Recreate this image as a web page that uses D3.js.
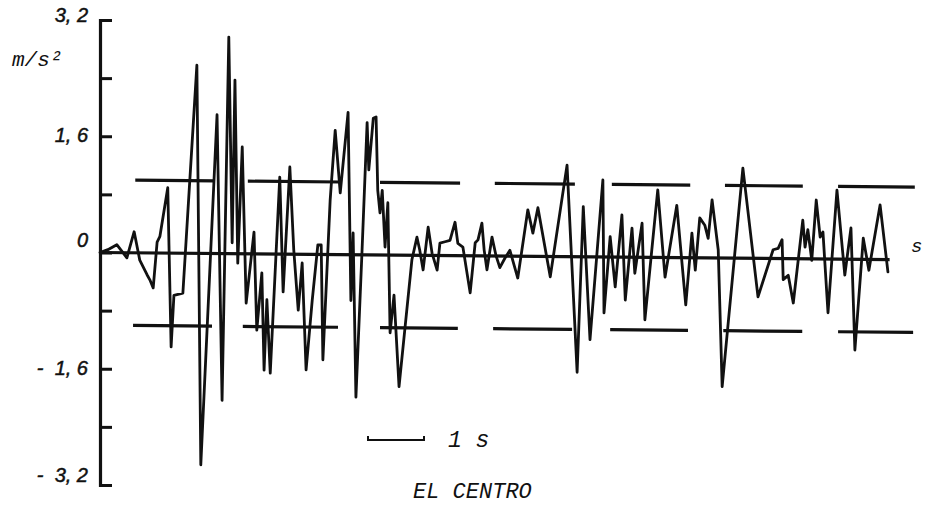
<!DOCTYPE html>
<html><head><meta charset="utf-8">
<script src="https://cdn.jsdelivr.net/npm/d3@7"></script>
<style>body{margin:0;background:#fff}svg{display:block}</style>
</head><body>
<svg id="c" width="931" height="506"></svg>
<script>
// time in seconds, acceleration in m/s^2 (read from the record)
const time = [0,0.14,0.30,0.43,0.48,0.61,0.71,0.84,0.89,0.95,1.02,1.07,1.21,1.27,1.32,1.48,1.73,1.80,2.09,2.18,2.30,2.36,2.41,2.46,2.54,2.61,2.75,2.80,2.89,2.93,2.98,3.04,3.21,3.27,3.39,3.46,3.54,3.61,3.68,3.79,3.89,3.95,3.98,4.11,4.20,4.29,4.43,4.48,4.52,4.57,4.68,4.77,4.80,4.88,4.93,4.96,5.00,5.04,5.09,5.14,5.18,5.25,5.34,5.57,5.66,5.71,5.77,5.86,5.93,6.02,6.07,6.16,6.25,6.34,6.39,6.48,6.61,6.70,6.75,6.82,6.86,6.91,7.00,7.07,7.14,7.23,7.32,7.46,7.64,7.73,7.82,8.04,8.34,8.52,8.63,8.75,8.98,9.00,9.11,9.20,9.32,9.38,9.50,9.55,9.68,9.73,9.96,10.09,10.30,10.46,10.57,10.63,10.71,10.80,10.86,10.93,11.04,11.11,11.48,11.75,12.02,12.11,12.18,12.20,12.29,12.38,12.55,12.59,12.64,12.71,12.79,12.86,12.91,13.00,13.16,13.30,13.41,13.48,13.63,13.73,13.93,14.07];
const accel = [0.00,0.04,0.11,-0.02,-0.07,0.29,-0.10,-0.30,-0.37,-0.48,0.15,0.23,0.90,-1.29,-0.58,-0.55,2.59,-2.91,1.91,-2.02,2.98,0.15,2.39,-0.13,1.47,-0.68,0.30,-1.05,-0.26,-1.60,-0.63,-1.64,1.06,-0.52,1.20,0.06,-0.77,-0.12,-1.59,-0.63,0.13,0.13,-1.45,0.75,1.71,0.85,1.96,-0.63,0.30,-1.96,0.07,1.82,1.17,1.88,1.90,0.89,0.58,0.89,0.11,0.72,-1.07,-0.55,-1.81,-0.06,0.25,0.07,-0.20,0.39,0.03,-0.20,0.17,0.19,0.21,0.46,0.17,0.12,-0.51,0.18,0.22,0.45,0.08,-0.19,0.26,0.01,-0.16,-0.03,0.08,-0.30,0.64,0.32,0.67,-0.28,1.26,-1.59,0.69,-1.14,1.06,-0.77,0.28,-0.41,0.58,-0.59,0.40,-0.22,0.47,-0.86,0.93,-0.27,0.72,-0.65,0.34,-0.17,0.55,0.45,0.27,0.80,0.11,-1.77,1.24,-0.53,0.12,0.14,0.26,-0.29,-0.23,-0.61,0.53,0.16,0.40,-0.02,0.81,0.30,0.37,-0.74,0.95,-0.22,0.43,-1.25,0.29,-0.15,0.75,-0.17];

const yTicks = [-3.2,-2.4,-1.6,-0.8,0,0.8,1.6,2.4,3.2];
const labelValues = [3.2,1.6,0,-1.6,-3.2];
const labelTexts = ["3, 2","1, 6","0","-  1, 6","-  3, 2"];
const threshold = 1.0;
const upperStart = [0.63,2.64,5.00,7.05,9.14,11.16,13.18];
const upperEnd   = [2.05,4.29,6.43,8.48,10.54,12.55,14.55];
const lowerStart = [0.59,2.55,5.00,7.02,9.11,11.13,13.18];
const lowerEnd   = [2.00,4.25,6.39,8.43,10.50,12.54,14.52];
const recordEnd = 14.1;
const unitY = "m/s²", unitX = "s", scaleText = "1 s", title = "EL CENTRO";

const svg = d3.select("#c");
const ink = "#111";
const x = d3.scaleLinear().domain([0,14.5]).range([100,912]);
const y = d3.scaleLinear().domain([-3.2,3.2]).range([485,20]);

// y axis with bracket ends
const ax = svg.append("g").attr("transform","translate(100,0)")
  .call(d3.axisRight(y).tickValues(yTicks).tickSize(12).tickSizeOuter(12).tickFormat(""));
ax.select(".domain").attr("stroke",ink).attr("stroke-width",3.2).attr("fill","none");
ax.selectAll(".tick line").attr("stroke",ink).attr("stroke-width",3);

const labelShift = [2,6,-6,6,-3];
svg.append("g").selectAll("text").data(labelValues).join("text")
  .attr("x",88).attr("y",(d,i)=>y(d)+labelShift[i])
  .attr("text-anchor","end").attr("xml:space","preserve")
  .style("white-space","pre")
  .attr("font-family","Liberation Sans, Arial, sans-serif").attr("font-style","italic")
  .attr("font-size",20).attr("fill",ink).attr("stroke",ink).attr("stroke-width",0.5)
  .text((d,i)=>labelTexts[i]);

svg.append("text").attr("x",12).attr("y",66)
  .attr("font-family","Liberation Mono, Courier New, monospace").attr("font-style","italic")
  .attr("font-size",21).attr("fill",ink).text(unitY);

// plot group, slightly skewed like the scanned record
const tilt = 0.51;
const g = svg.append("g").attr("transform",`translate(100,0) skewY(${tilt}) translate(-100,0)`);

g.append("line").attr("x1",x(0)).attr("x2",x(recordEnd)).attr("y1",y(0)).attr("y2",y(0))
  .attr("stroke",ink).attr("stroke-width",3.2);

const segs = upperStart.map((s,i)=>({a:s,b:upperEnd[i],v:threshold}))
  .concat(lowerStart.map((s,i)=>({a:s,b:lowerEnd[i],v:-threshold})));
g.append("g").selectAll("line").data(segs).join("line")
  .attr("x1",d=>x(d.a)).attr("x2",d=>x(d.b)).attr("y1",d=>y(d.v)).attr("y2",d=>y(d.v))
  .attr("stroke",ink).attr("stroke-width",3.2);

const pts = time.map((t,i)=>[t,accel[i]]);
g.append("path").datum(pts)
  .attr("d",d3.line().x(d=>x(d[0])).y(d=>y(d[1])))
  .attr("fill","none").attr("stroke",ink).attr("stroke-width",2.8)
  .attr("stroke-linejoin","round").attr("stroke-linecap","round");

svg.append("text").attr("x",911).attr("y",252)
  .attr("font-family","Liberation Mono, Courier New, monospace").attr("font-style","italic")
  .attr("font-size",19).attr("fill",ink).text(unitX);

// 1 s scale bar
const bx0 = 368, by = 440, bw = x(1)-x(0);
svg.append("path").attr("d",`M${bx0},${by-4}V${by}H${bx0+bw}V${by-4}`)
  .attr("fill","none").attr("stroke",ink).attr("stroke-width",2);
svg.append("text").attr("x",448).attr("y",447)
  .attr("font-family","Liberation Mono, Courier New, monospace").attr("font-style","italic")
  .attr("font-size",23).attr("fill",ink).attr("xml:space","preserve").text(scaleText);

svg.append("text").attr("x",413).attr("y",498)
  .attr("font-family","Liberation Mono, Courier New, monospace").attr("font-style","italic")
  .attr("font-size",22).attr("fill",ink).text(title);
</script>
</body></html>
